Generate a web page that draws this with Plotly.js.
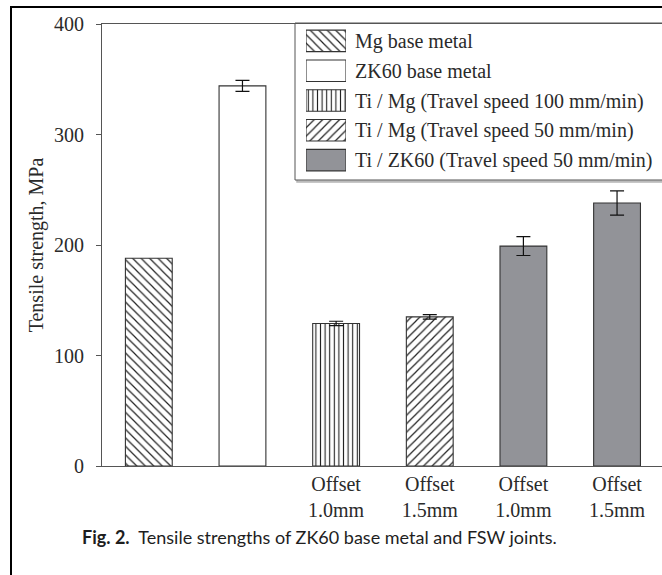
<!DOCTYPE html>
<html>
<head>
<meta charset="utf-8">
<script src="https://cdn.plot.ly/plotly-3.0.1.min.js"></script>
<style>
  html, body { margin: 0; padding: 0; background: #ffffff; }
  #chart { width: 662px; height: 575px; }
</style>
</head>
<body>
<div id="chart"></div>
<script>
// ---- data ----
const positions = [0, 1, 2, 3, 4, 5];
const tickLabels = ["", "", "Offset<br>1.0mm", "Offset<br>1.5mm", "Offset<br>1.0mm", "Offset<br>1.5mm"];
const yTicks = [0, 100, 200, 300, 400];

const seriesNames = [
  "Mg base metal",
  "ZK60 base metal",
  "Ti / Mg (Travel speed 100 mm/min)",
  "Ti / Mg (Travel speed 50 mm/min)",
  "Ti / ZK60 (Travel speed 50 mm/min)"
];

const mgBaseX = [0];
const mgBase = [188];

const zk60BaseX = [1];
const zk60Base = [344];
const zk60BaseErr = [5];

const tiMg100X = [2];
const tiMg100 = [129];
const tiMg100Err = [2];

const tiMg50X = [3];
const tiMg50 = [135];
const tiMg50Err = [2];

const tiZk60X = [4, 5];
const tiZk60 = [199, 238];
const tiZk60Err = [8.5, 11];

// ---- styles ----
const serif = "Liberation Serif, Times New Roman, serif";
const textColor = "#2a2a2a";
const outline = { color: "#333333", width: 1.1 };
const gray = "#929398";

const styles = [
  { color: "#ffffff", pattern: { shape: "\\", size: 6, solidity: 0.2, fgcolor: "#222222", bgcolor: "#ffffff", fillmode: "replace" } },
  { color: "#ffffff", pattern: { shape: "", fillmode: "replace" } },
  { color: "#ffffff", pattern: { shape: "|", size: 4.6, solidity: 0.24, fgcolor: "#222222", bgcolor: "#ffffff", fillmode: "replace" } },
  { color: "#ffffff", pattern: { shape: "/", size: 6, solidity: 0.2, fgcolor: "#222222", bgcolor: "#ffffff", fillmode: "replace" } },
  { color: gray, pattern: { shape: "", fillmode: "replace" } }
];

const seriesX = [mgBaseX, zk60BaseX, tiMg100X, tiMg50X, tiZk60X];
const seriesY = [mgBase, zk60Base, tiMg100, tiMg50, tiZk60];
const seriesErr = [null, zk60BaseErr, tiMg100Err, tiMg50Err, tiZk60Err];

const traces = [];
for (let i = 0; i < seriesNames.length; i++) {
  const t = {
    type: "bar",
    name: seriesNames[i],
    x: seriesX[i],
    y: seriesY[i],
    width: 0.5,
    marker: { color: styles[i].color, pattern: styles[i].pattern, line: outline },
    showlegend: false,
    hoverinfo: "skip"
  };
  if (seriesErr[i]) {
    t.error_y = { type: "data", array: seriesErr[i], visible: true, color: "#111111", thickness: 1.2, width: 7 };
  }
  traces.push(t);
}

// legend swatches drawn as bars on a small helper axis pair
const legendRows = seriesNames.map((_, i) => i);
for (let i = 0; i < seriesNames.length; i++) {
  traces.push({
    type: "bar",
    orientation: "h",
    x: [1],
    y: [legendRows[i]],
    base: 0,
    width: 0.72,
    xaxis: "x2",
    yaxis: "y2",
    marker: { color: styles[i].color, pattern: styles[i].pattern, line: outline },
    showlegend: false,
    hoverinfo: "skip"
  });
}

// pixel helpers for layout placement (plot area: x 102..662, y 24..466)
const L = 102, R = 662, T = 24, B = 466;
const px = v => (v - L) / (R - L);
const py = v => (B - v) / (B - T);

const layout = {
  width: 662,
  height: 575,
  margin: { l: L, r: 0, t: T, b: 575 - B },
  paper_bgcolor: "#ffffff",
  plot_bgcolor: "rgba(0,0,0,0)",
  barmode: "overlay",
  showlegend: false,
  font: { family: serif, size: 20, color: textColor },
  xaxis: {
    range: [-0.5, 5.48],
    tickvals: positions,
    ticktext: tickLabels,
    ticks: "",
    showline: true,
    linecolor: "#555555",
    linewidth: 1,
    mirror: true,
    showgrid: false,
    zeroline: false,
    tickfont: { family: serif, size: 20, color: textColor },
    fixedrange: true
  },
  yaxis: {
    range: [0, 400],
    tickvals: yTicks,
    ticks: "outside",
    ticklen: 5,
    tickcolor: "#555555",
    ticklabelstandoff: 8,
    showline: true,
    linecolor: "#555555",
    linewidth: 1,
    showgrid: false,
    zeroline: false,
    tickfont: { family: serif, size: 20, color: textColor },
    title: { text: "Tensile strength, MPa", font: { family: serif, size: 20, color: textColor }, standoff: 5 },
    fixedrange: true
  },
  xaxis2: {
    domain: [px(306), px(346)],
    anchor: "y2",
    range: [0, 1],
    showgrid: false, zeroline: false, showline: false, showticklabels: false, ticks: "",
    fixedrange: true
  },
  yaxis2: {
    domain: [py(175), py(26)],
    anchor: "x2",
    side: "right",
    range: [4.5, -0.5],
    tickvals: legendRows,
    ticktext: seriesNames,
    ticks: "",
    ticklabelstandoff: 8,
    showgrid: false, zeroline: false, showline: false,
    tickfont: { family: serif, size: 20, color: textColor },
    fixedrange: true
  },
  shapes: [
    // outer figure frame
    { type: "rect", xref: "paper", yref: "paper", x0: px(11), x1: px(720), y0: py(640), y1: py(7),
      line: { color: "#000000", width: 2 }, fillcolor: "rgba(0,0,0,0)", layer: "below" },
    // legend box shadow
    { type: "rect", xref: "paper", yref: "paper", x0: px(297), x1: px(720), y0: py(182), y1: py(25),
      line: { color: "#b5b5b5", width: 1.5 }, fillcolor: "#cfcfcf", layer: "below" },
    // legend box
    { type: "rect", xref: "paper", yref: "paper", x0: px(295), x1: px(718), y0: py(180), y1: py(23),
      line: { color: "#555555", width: 1 }, fillcolor: "#ffffff", layer: "below" }
  ],
  annotations: [
    {
      xref: "paper", yref: "paper",
      x: px(80), y: py(537),
      xanchor: "left", yanchor: "middle",
      showarrow: false,
      text: "<b>Fig. 2.</b>  Tensile strengths of ZK60 base metal and FSW joints.",
      font: { family: "Lato, Open Sans, sans-serif", size: 18, color: "#1e1e1e" }
    }
  ]
};

Plotly.newPlot("chart", traces, layout, { staticPlot: true, displayModeBar: false });
</script>
</body>
</html>
